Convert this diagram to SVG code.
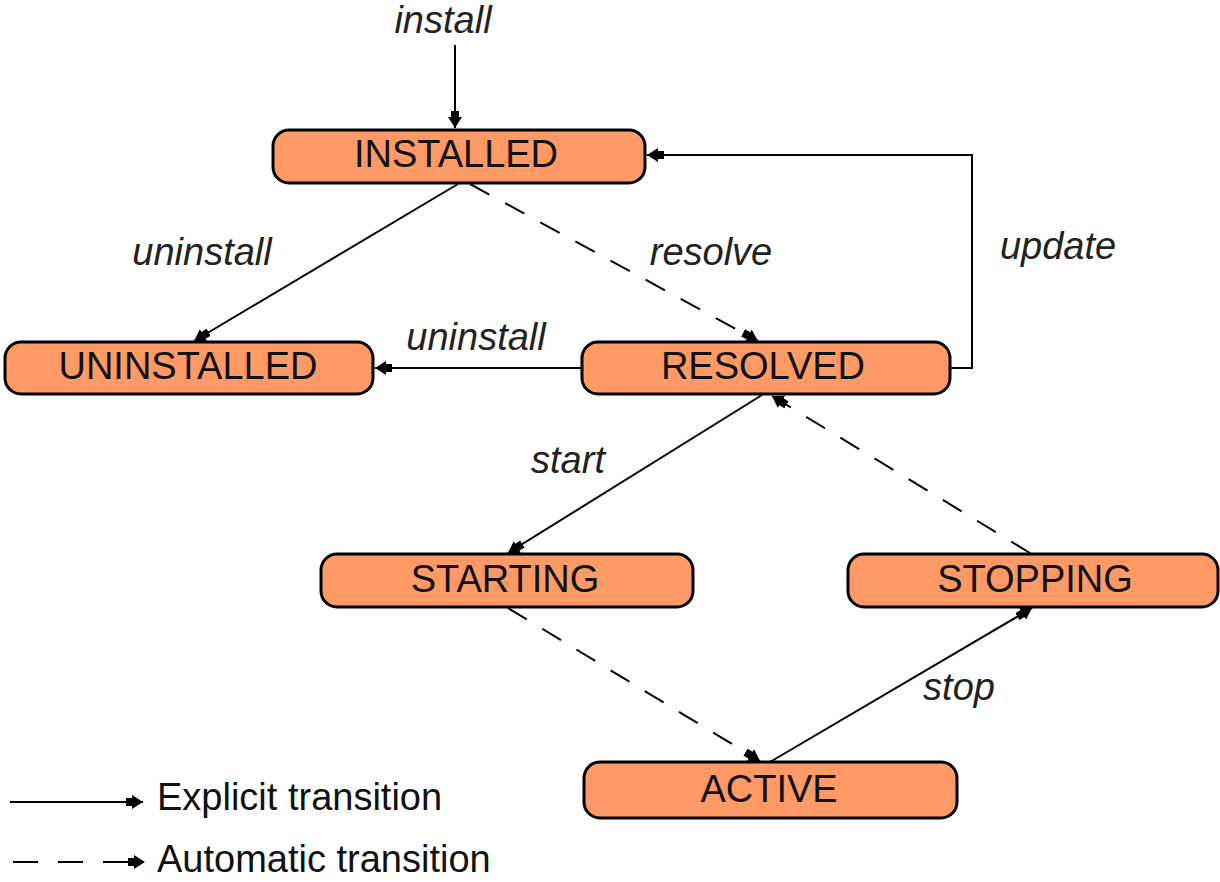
<svg xmlns="http://www.w3.org/2000/svg" width="1220" height="882" viewBox="0 0 1220 882">
<defs>
<style>
.node rect{fill:#FF9966;stroke:#000;stroke-width:3}
.node text{font-family:"Liberation Sans",Arial,sans-serif;font-size:38px;fill:#111;text-anchor:middle}
.lbl{font-family:"Liberation Sans",Arial,sans-serif;font-size:38px;font-style:italic;fill:#222;text-anchor:middle}
.leg{font-family:"Liberation Sans",Arial,sans-serif;font-size:38px;fill:#111}
.c{fill:none;stroke:#000;stroke-width:2}
.d{stroke-dasharray:22 18}
</style>
<marker id="ah" markerUnits="userSpaceOnUse" markerWidth="18" markerHeight="16" refX="17" refY="8" orient="auto">
<path d="M0,4 L6,4 L6,1 L17,8 L6,15 L6,12 L0,12 z" fill="#000"/>
</marker>
</defs>
<rect width="1220" height="882" fill="#fff"/>
<g id="connectors">
<line class="c" x1="455" y1="45" x2="455" y2="128" marker-end="url(#ah)"/>
<line class="c" x1="458" y1="184" x2="194" y2="341" marker-end="url(#ah)"/>
<line class="c d" x1="470" y1="184" x2="758" y2="341" marker-end="url(#ah)"/>
<polyline class="c" points="950,368 972,368 972,155 647,155" marker-end="url(#ah)"/>
<line class="c" x1="582" y1="368" x2="375" y2="368" marker-end="url(#ah)"/>
<line class="c" x1="762" y1="395" x2="508" y2="553" marker-end="url(#ah)"/>
<line class="c d" x1="1030" y1="553" x2="772" y2="396" marker-end="url(#ah)"/>
<line class="c d" x1="508" y1="608" x2="760" y2="761" marker-end="url(#ah)"/>
<line class="c" x1="770" y1="762" x2="1032" y2="608" marker-end="url(#ah)"/>
</g>
<g id="labels">
<text class="lbl" x="443" y="33">install</text>
<text class="lbl" x="202" y="265">uninstall</text>
<text class="lbl" x="711" y="265">resolve</text>
<text class="lbl" x="1058" y="259">update</text>
<text class="lbl" x="476" y="350">uninstall</text>
<text class="lbl" x="568" y="473">start</text>
<text class="lbl" x="959" y="700">stop</text>
</g>
<g id="n-installed" class="node"><rect x="273" y="130" width="372" height="53" rx="16" ry="16"/><text x="456" y="167">INSTALLED</text></g>
<g id="n-uninstalled" class="node"><rect x="5" y="342" width="368" height="52" rx="16" ry="16"/><text x="188" y="379">UNINSTALLED</text></g>
<g id="n-resolved" class="node"><rect x="582" y="342" width="368" height="52" rx="16" ry="16"/><text x="763" y="379">RESOLVED</text></g>
<g id="n-starting" class="node"><rect x="321" y="554" width="372" height="53" rx="16" ry="16"/><text x="505" y="592">STARTING</text></g>
<g id="n-stopping" class="node"><rect x="848" y="554" width="370" height="53" rx="16" ry="16"/><text x="1035" y="592">STOPPING</text></g>
<g id="n-active" class="node"><rect x="584" y="762" width="373" height="56" rx="16" ry="16"/><text x="769" y="802">ACTIVE</text></g>
<g id="legend">
<line class="c" x1="10" y1="802" x2="143" y2="802" marker-end="url(#ah)"/>
<text class="leg" x="157" y="810">Explicit transition</text>
<line class="c" x1="13" y1="862" x2="145" y2="862" stroke-dasharray="25 20" marker-end="url(#ah)"/>
<text class="leg" x="157" y="872">Automatic transition</text>
</g>
</svg>
